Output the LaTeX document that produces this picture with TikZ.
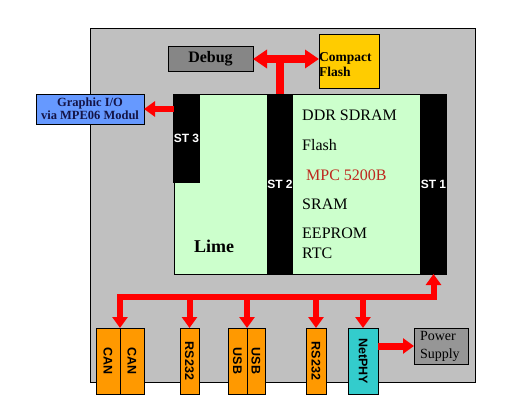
\documentclass[tikz,border=0pt]{standalone}
\usepackage{fontspec}
\setmainfont{Liberation Serif}
\setsansfont{Liberation Sans}
\usetikzlibrary{arrows.meta}

\definecolor{boardgray}{RGB}{192,192,192}
\definecolor{limegreen}{RGB}{204,255,204}
\definecolor{debuggray}{RGB}{134,134,134}
\definecolor{powergray}{RGB}{150,150,150}
\definecolor{cfyellow}{RGB}{255,204,0}
\definecolor{gioblue}{RGB}{102,153,255}
\definecolor{ifaceorange}{RGB}{255,153,0}
\definecolor{phycyan}{RGB}{51,204,204}
\definecolor{mpcred}{RGB}{190,40,30}
\definecolor{gionavy}{RGB}{20,20,70}

\tikzset{
  redarrow/.style={draw=red, line width=6pt,
    -{Triangle[width=15pt,length=11pt]}},
  iface/.style={fill=ifaceorange, minimum width=#1, minimum height=66pt,
    font=\sffamily\bfseries\fontsize{12.5}{12.5}\selectfont},
  stcol/.style={fill=black, text=white,
    font=\sffamily\bfseries\fontsize{12}{12}\selectfont}
}

\begin{document}
\begin{tikzpicture}[x=1pt,y=-1pt]
\useasboundingbox (0,0) rectangle (530,417);

      \begin{scope}[every node/.style={draw, inner sep=0pt, outer sep=0pt, line width=.8pt}]
        \node[fill=boardgray, minimum width=385pt, minimum height=354pt] (board) at (282.5,205) {};
        \node[fill=limegreen, minimum width=272pt, minimum height=180pt] (lime) at (310,184) {};
        \node[stcol, minimum width=25pt, minimum height=88pt]  (st3) at (186.5,138) {ST 3};
        \node[stcol, minimum width=24pt, minimum height=180pt] (st2) at (280,184)   {ST 2};
        \node[stcol, minimum width=25pt, minimum height=180pt] (st1) at (433.5,184) {ST 1};
        \node[fill=debuggray, minimum width=85pt, minimum height=25pt,
              font=\bfseries\fontsize{16}{16}\selectfont] (debug) at (210.5,58.5) {Debug};
        \node[fill=cfyellow, minimum width=60pt, minimum height=54pt] (cf) at (349,61) {};
        \node[fill=gioblue, minimum width=108pt, minimum height=30pt, align=center,
              text=gionavy, font=\bfseries\fontsize{12.5}{13}\selectfont] (gio) at (90,109) {Graphic I/O\\via MPE06 Modul};
        \node[iface=24pt] (can1) at (108,361)   {\rotatebox{-90}{CAN}};
        \node[iface=24pt] (can2) at (132,361)   {\rotatebox{-90}{CAN}};
        \node[iface=19pt] (rsa)  at (189.5,361) {\rotatebox{-90}{RS232}};
        \node[iface=19pt] (usb1) at (237.5,361) {\rotatebox{-90}{USB}};
        \node[iface=18pt] (usb2) at (256,361)   {\rotatebox{-90}{USB}};
        \node[iface=20pt] (rsb)  at (316,361)   {\rotatebox{-90}{RS232}};
        \node[iface=30pt, fill=phycyan] (net) at (363,361) {\rotatebox{-90}{NetPHY}};
        \node[fill=powergray, minimum width=54pt, minimum height=36pt, inner xsep=6pt,
              text width=42pt, align=left, font=\fontsize{14}{18}\selectfont] (power) at (441,346) {Power\\Supply};
      \end{scope}

      % texts on the module
      \begin{scope}[every node/.style={anchor=west, inner sep=0pt, font=\fontsize{16}{16}\selectfont}]
        \node (ddr)    at (302,115) {DDR SDRAM};
        \node (flash)  at (302,145) {Flash};
        \node[text=mpcred] (mpc) at (306,175) {MPC 5200B};
        \node (sram)   at (302,204) {SRAM};
        \node (eeprom) at (302,233) {EEPROM};
        \node (rtc)    at (302,253) {RTC};
        \node[font=\bfseries\fontsize{18}{18}\selectfont] (limetxt) at (194,246) {Lime};
      \end{scope}

      \coordinate (top)  at (280,59);
      \coordinate (busL) at (120,297);
      \coordinate (busR) at (433.5,297);

      \begin{scope}[every path/.style={redarrow}]
        \path[line width=7.5pt, -{Triangle[width=18pt,length=14pt]}] (st2.north) -- (top) -- (debug.east |- top);
        \path[line width=7.5pt, -{Triangle[width=18pt,length=14pt]}] (top) -- (cf.west |- top);
        \path (gio.east -| st3.west) -- (gio.east);
        \path[{Triangle[width=15pt,length=11pt]}-{Triangle[width=15pt,length=11pt]}]
          (can1.north east) -- (busL) -- (busR) -- (st1.south);
        \path (usb1.north east |- busL) -- (usb1.north east);
        \foreach \n in {rsa,rsb,net}
          \path (\n.north |- busL) -- (\n.north);
        \path[line width=7pt] (net.east |- power) -- (power.west);
      \end{scope}

      \node[anchor=west, inner sep=0pt, align=left,
            font=\bfseries\fontsize{13.5}{15}\selectfont] (cftxt) at (319,64.5) {Compact\\Flash};

    \end{tikzpicture}
\end{document}
